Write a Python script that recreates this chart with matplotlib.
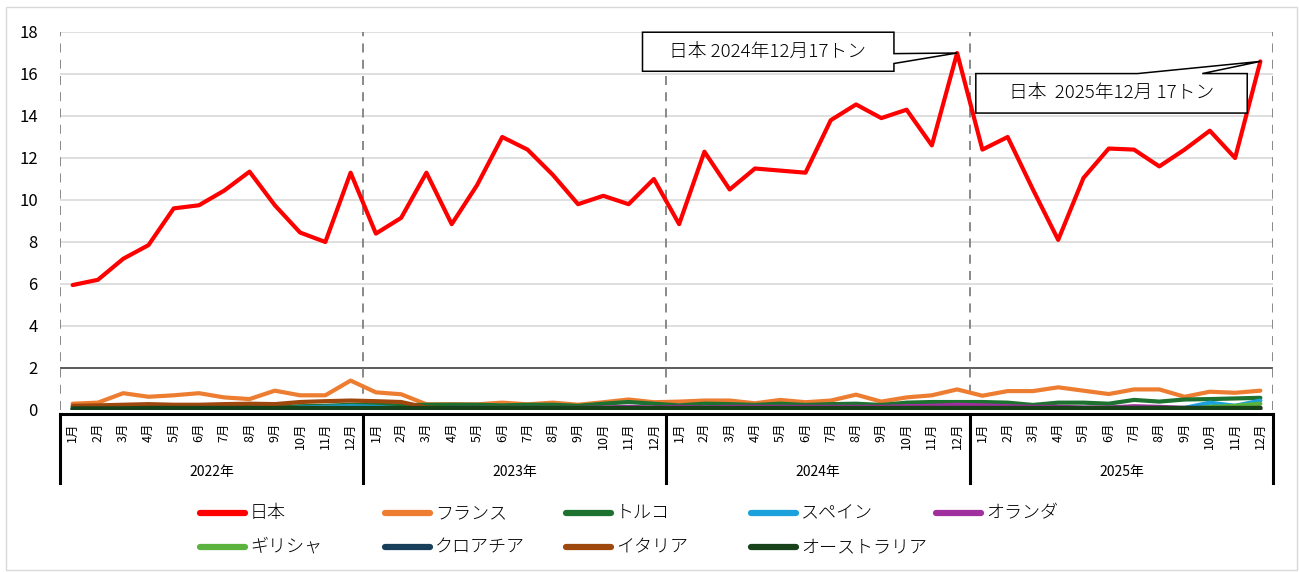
import matplotlib.pyplot as plt
from matplotlib.lines import Line2D
from matplotlib.patches import Polygon, Rectangle

plt.rcParams['font.family'] = ['Noto Sans CJK JP', 'DejaVu Sans']

years = ["2022年", "2023年", "2024年", "2025年"]
months = [f"{m}月" for m in range(1, 13)] * 4

japan = [5.95, 6.2, 7.2, 7.85, 9.6, 9.75, 10.45, 11.35, 9.75, 8.45, 8.0, 11.3,
         8.4, 9.15, 11.3, 8.85, 10.7, 13.0, 12.4, 11.2, 9.8, 10.2, 9.8, 11.0,
         8.85, 12.3, 10.5, 11.5, 11.4, 11.3, 13.8, 14.55, 13.9, 14.3, 12.6, 17.0,
         12.4, 13.0, 10.5, 8.1, 11.05, 12.45, 12.4, 11.6, 12.4, 13.3, 12.0, 16.6]
france = [0.30, 0.35, 0.80, 0.63, 0.70, 0.80, 0.60, 0.52, 0.92, 0.70, 0.70, 1.40,
          0.84, 0.75, 0.27, 0.28, 0.27, 0.35, 0.27, 0.35, 0.25, 0.37, 0.50, 0.37,
          0.40, 0.45, 0.45, 0.32, 0.48, 0.37, 0.45, 0.73, 0.40, 0.60, 0.70, 0.98,
          0.68, 0.90, 0.90, 1.08, 0.92, 0.76, 0.98, 0.98, 0.63, 0.87, 0.82, 0.92]
turkey = [0.15, 0.15, 0.15, 0.15, 0.15, 0.15, 0.15, 0.15, 0.15, 0.18, 0.20, 0.25,
          0.25, 0.22, 0.25, 0.25, 0.25, 0.22, 0.25, 0.25, 0.20, 0.30, 0.38, 0.30,
          0.22, 0.30, 0.28, 0.24, 0.30, 0.24, 0.28, 0.30, 0.24, 0.35, 0.38, 0.38,
          0.38, 0.35, 0.24, 0.35, 0.35, 0.30, 0.48, 0.40, 0.50, 0.52, 0.55, 0.58]
spain = [0.05, 0.05, 0.05, 0.05, 0.05, 0.05, 0.05, 0.05, 0.05, 0.12, 0.15, 0.18,
         0.15, 0.08, 0.05, 0.05, 0.05, 0.05, 0.05, 0.05, 0.05, 0.05, 0.05, 0.05,
         0.05, 0.05, 0.05, 0.05, 0.05, 0.05, 0.05, 0.05, 0.05, 0.05, 0.05, 0.05,
         0.05, 0.05, 0.05, 0.05, 0.05, 0.05, 0.05, 0.05, 0.10, 0.35, 0.20, 0.45]
netherlands = [0.03, 0.03, 0.03, 0.03, 0.03, 0.03, 0.03, 0.03, 0.03, 0.03, 0.03, 0.03,
               0.05, 0.05, 0.08, 0.10, 0.10, 0.10, 0.10, 0.10, 0.10, 0.12, 0.15, 0.12,
               0.15, 0.12, 0.15, 0.15, 0.15, 0.15, 0.15, 0.15, 0.15, 0.18, 0.20, 0.25,
               0.22, 0.18, 0.15, 0.15, 0.12, 0.12, 0.18, 0.15, 0.10, 0.10, 0.10, 0.12]
greece = [0.02] * 45 + [0.15, 0.20, 0.30]
croatia = [0.05, 0.05, 0.05, 0.05, 0.08, 0.10, 0.08, 0.05, 0.05, 0.05, 0.05, 0.05,
           0.05, 0.05, 0.05, 0.05, 0.05, 0.05, 0.05, 0.05, 0.05, 0.05, 0.05, 0.05,
           0.05, 0.05, 0.05, 0.05, 0.05, 0.05, 0.05, 0.05, 0.05, 0.05, 0.05, 0.05,
           0.05, 0.05, 0.05, 0.05, 0.05, 0.05, 0.05, 0.05, 0.05, 0.05, 0.05, 0.05]
italy = [0.20, 0.22, 0.25, 0.28, 0.25, 0.25, 0.28, 0.30, 0.28, 0.38, 0.42, 0.45,
         0.42, 0.38, 0.12, 0.08, 0.08, 0.08, 0.08, 0.08, 0.08, 0.08, 0.08, 0.08,
         0.08, 0.08, 0.08, 0.08, 0.08, 0.08, 0.08, 0.08, 0.08, 0.08, 0.08, 0.08,
         0.08, 0.08, 0.08, 0.08, 0.08, 0.08, 0.08, 0.08, 0.08, 0.08, 0.08, 0.10]
australia = [0.08, 0.08, 0.08, 0.10, 0.10, 0.10, 0.10, 0.10, 0.10, 0.10, 0.10, 0.10,
             0.10, 0.10, 0.10, 0.10, 0.10, 0.10, 0.10, 0.10, 0.10, 0.10, 0.10, 0.10,
             0.10, 0.10, 0.10, 0.10, 0.10, 0.10, 0.10, 0.10, 0.10, 0.10, 0.10, 0.10,
             0.10, 0.10, 0.10, 0.10, 0.10, 0.10, 0.10, 0.10, 0.10, 0.10, 0.10, 0.10]

names = ["日本", "フランス", "トルコ", "スペイン", "オランダ",
         "ギリシャ", "クロアチア", "イタリア", "オーストラリア"]
series = [japan, france, turkey, spain, netherlands, greece, croatia, italy, australia]
colors = ["#FF0000", "#ED7D31", "#1E7230", "#1BA1DC", "#A0309D",
          "#5BB33E", "#173F5C", "#9E480E", "#17421A"]

fig = plt.figure(figsize=(12.99, 5.72), dpi=100)
fig.add_artist(Rectangle((6 / 1299, 2 / 572), 1291 / 1299, 563 / 572,
                         transform=fig.transFigure, fill=False,
                         edgecolor="#d9d9d9", lw=1))

ax = fig.add_axes([60 / 1299, 162 / 572, 1213 / 1299, 378 / 572])
x = list(range(len(months)))

# light horizontal grid, darker line at 2
for v in range(4, 19, 2):
    ax.axhline(v, color="#d9d9d9", lw=1.2, zorder=0)
ax.axhline(2, color="#404040", lw=1.2, zorder=0)

# dashed year boundaries
for b in [-0.5, 11.5, 23.5, 35.5, 47.5]:
    ax.axvline(b, color="#808080", lw=1.3, ls=(0, (5, 4)), zorder=1)

for vals, c in zip(series, colors):
    ax.plot(x, vals, color=c, lw=3, solid_joinstyle="round",
            solid_capstyle="round", zorder=3)

ax.set_xlim(-0.5, 47.5)
ax.set_ylim(0, 18)
ax.set_yticks(range(0, 19, 2))
ax.tick_params(axis="y", length=0, labelsize=12, pad=16)
ax.set_xticks(x)
ax.set_xticklabels(months, rotation=90, fontsize=9)
ax.tick_params(axis="x", length=0, pad=9)
for s in ax.spines.values():
    s.set_visible(False)

# two-level category axis frame
tr = ax.get_xaxis_transform()
h_px = 378.0
ax.add_line(Line2D([-0.5, 47.5], [-4 / h_px, -4 / h_px], transform=tr,
                   color="black", lw=2.2, clip_on=False))
for b in [-0.5, 11.5, 23.5, 35.5, 47.5]:
    ax.add_line(Line2D([b, b], [-4 / h_px, -73 / h_px], transform=tr,
                       color="black", lw=2.2, clip_on=False))
for i, yr in enumerate(years):
    ax.text(5.5 + 12 * i, -62 / h_px, yr, transform=tr, ha="center",
            va="center", fontsize=10)

# callouts for the Japan peaks
tip1 = (35, japan[35])
box1 = [(22.55, 17.99), (32.5, 17.99), (32.5, 16.97), tip1,
        (32.5, 16.5), (32.5, 16.13), (22.55, 16.13)]
ax.add_patch(Polygon(box1, closed=True, facecolor="white", edgecolor="black",
                     lw=1.1, zorder=6, clip_on=False))
ax.text(27.5, 17.05, "日本 2024年12月17トン", ha="center", va="center",
        fontsize=13.5, fontweight="light", zorder=7)

tip2 = (47, japan[47])
box2 = [(35.74, 16.02), (42.14, 16.02), tip2, (44.7, 16.02),
        (46.48, 16.02), (46.48, 14.14), (35.74, 14.14)]
ax.add_patch(Polygon(box2, closed=True, facecolor="white", edgecolor="black",
                     lw=1.1, zorder=6, clip_on=False))
ax.text(41.1, 15.08, "日本  2025年12月 17トン", ha="center", va="center",
        fontsize=13.5, fontweight="light", zorder=7)

# legend laid out in equal-width columns
col_x = [200, 385, 566, 751, 936]
row_y = [513, 547]
for k, (name, c) in enumerate(zip(names, colors)):
    px = col_x[k % 5]
    py = row_y[k // 5]
    fy = 1 - py / 572
    fig.add_artist(Line2D([px / 1299, (px + 45) / 1299], [fy, fy],
                          transform=fig.transFigure, color=c, lw=4.5,
                          solid_capstyle="round"))
    fig.text((px + 50) / 1299, fy, name, ha="left", va="center",
             fontsize=13, fontweight="light")

fig.savefig("out.png", dpi=100)
